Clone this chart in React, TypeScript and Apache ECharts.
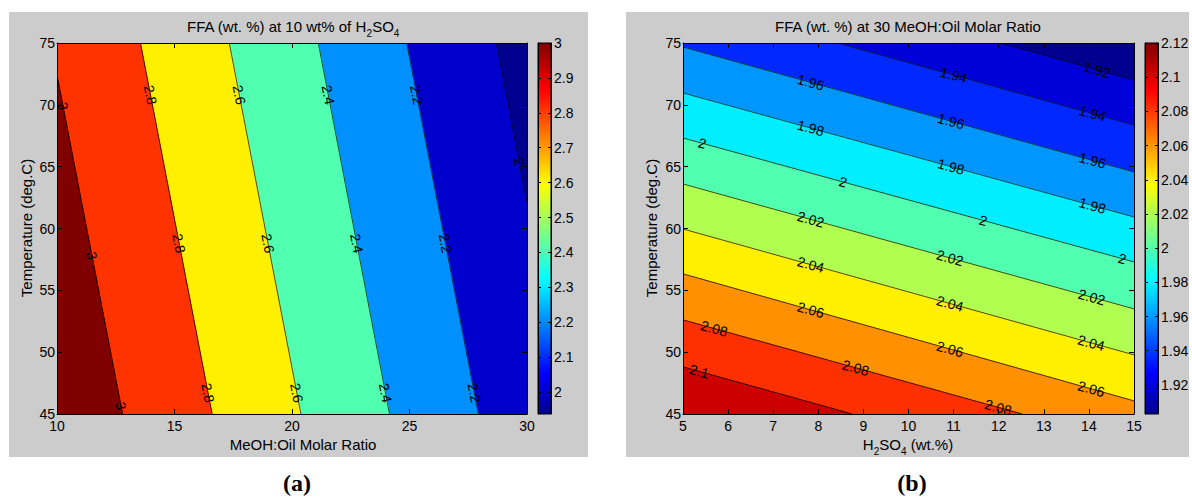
import React, { useEffect, useRef } from "react";
import * as echarts from "echarts";

const FONT = "'Liberation Sans', Arial, Helvetica, sans-serif";

// ---------- Panel (a): FFA vs MeOH:Oil molar ratio and temperature (10 wt% H2SO4)
const aXRange = [10, 30];
const aYRange = [45, 75];
const aLevels = [2.0, 2.2, 2.4, 2.6, 2.8, 3.0];
// contour line end points [x, y]
const aLineFrom = [[28.7, 75], [24.88, 75], [21.12, 75], [17.33, 75], [13.55, 75], [10, 72.4]];
const aLineTo = [[30, 62.1], [27.93, 45], [24.15, 45], [20.38, 45], [16.6, 45], [12.79, 45]];
const aBandColors = ["#00008F", "#0000CD", "#0090FF", "#50FFB0", "#FFF000", "#FF3300", "#800000"];
const aLabelLevel = [0, 1, 1, 1, 2, 2, 2, 3, 3, 3, 4, 4, 4, 5, 5, 5];
const aLabelY = [65.4, 70.8, 58.8, 46.7, 70.8, 58.8, 46.7, 70.8, 58.8, 46.7, 70.8, 58.8, 46.7, 69.9, 57.8, 45.65];
const aColorRange = [1.937, 3.0];
const aColorTicks = [2, 2.1, 2.2, 2.3, 2.4, 2.5, 2.6, 2.7, 2.8, 2.9, 3];

// ---------- Panel (b): FFA vs H2SO4 and temperature (30 MeOH:Oil)
const bXRange = [5, 15];
const bYRange = [45, 75];
const bLevels = [1.92, 1.94, 1.96, 1.98, 2.0, 2.02, 2.04, 2.06, 2.08, 2.1];
const bLineFrom = [[12.04, 75], [8.44, 75], [5, 74.68], [5, 70.96], [5, 67.32], [5, 63.6], [5, 59.96], [5, 56.33], [5, 52.61], [5, 48.81]];
const bLineTo = [[15, 72.0], [15, 68.37], [15, 64.57], [15, 60.93], [15, 57.3], [15, 53.5], [15, 49.78], [15, 46.06], [12.52, 45], [8.75, 45]];
const bBandColors = ["#00008F", "#0000D8", "#0028FF", "#0096FF", "#00EEFF", "#50FFB0", "#B0FF50", "#FFF000", "#FF9000", "#FF3000", "#CC0000"];
const bLabelLevel = [0, 1, 1, 2, 2, 2, 3, 3, 3, 4, 4, 4, 4, 5, 5, 5, 6, 6, 6, 7, 7, 7, 8, 8, 8, 9];
const bLabelX = [14.18, 11.0, 14.08, 7.83, 10.94, 14.08, 7.83, 10.94, 14.08, 5.43, 8.55, 11.66, 14.74, 7.83, 10.92, 14.06, 7.83, 10.92, 14.05, 7.83, 10.92, 14.05, 5.69, 8.83, 11.99, 5.36];
const bColorRange = [1.903, 2.12];
const bColorTicks = [1.92, 1.94, 1.96, 1.98, 2.0, 2.02, 2.04, 2.06, 2.08, 2.1, 2.12];

// jet colormap key points
const JET = [
  { offset: 0, color: "#00008F" },
  { offset: 0.111, color: "#0000FF" },
  { offset: 0.365, color: "#00FFFF" },
  { offset: 0.619, color: "#FFFF00" },
  { offset: 0.873, color: "#FF0000" },
  { offset: 1, color: "#800000" },
];

type P = number[];
function side(a: P, b: P, p: P) {
  return (b[0] - a[0]) * (p[1] - a[1]) - (b[1] - a[1]) * (p[0] - a[0]);
}
function clip(poly: P[], a: P, b: P, sign: number): P[] {
  const out: P[] = [];
  for (let i = 0; i < poly.length; i++) {
    const S = poly[i];
    const E = poly[(i + 1) % poly.length];
    const fs = side(a, b, S) * sign;
    const fe = side(a, b, E) * sign;
    if (fs >= 0) out.push(S);
    if ((fs >= 0) !== (fe >= 0)) {
      const t = fs / (fs - fe);
      out.push([S[0] + t * (E[0] - S[0]), S[1] + t * (E[1] - S[1])]);
    }
  }
  return out;
}
function bands(from: P[], to: P[], xr: number[], yr: number[], high: P): P[][] {
  const rect: P[] = [[xr[0], yr[0]], [xr[1], yr[0]], [xr[1], yr[1]], [xr[0], yr[1]]];
  const hs = from.map((f, i) => Math.sign(side(f, to[i], high)));
  const res: P[][] = [];
  for (let k = 0; k <= from.length; k++) {
    let poly = rect;
    if (k > 0) poly = clip(poly, from[k - 1], to[k - 1], hs[k - 1]);
    if (k < from.length) poly = clip(poly, from[k], to[k], -hs[k]);
    res.push(poly);
  }
  return res;
}

const aBands = bands(aLineFrom, aLineTo, aXRange, aYRange, [aXRange[0], aYRange[0]]);
const bBands = bands(bLineFrom, bLineTo, bXRange, bYRange, [bXRange[0], bYRange[0]]);

function pointOnLineByY(from: P, to: P, y: number): P {
  const t = (y - from[1]) / (to[1] - from[1]);
  return [from[0] + t * (to[0] - from[0]), y];
}
function pointOnLineByX(from: P, to: P, x: number): P {
  const t = (x - from[0]) / (to[0] - from[0]);
  return [x, from[1] + t * (to[1] - from[1])];
}

const fmt = (v: number) => String(Math.round(v * 100) / 100);

function contourSeries(
  xi: number, yi: number, polys: P[][], colors: string[], levels: number[],
  from: P[], to: P[], labelPts: P[], labelLevel: number[]
) {
  return [
    {
      type: "custom", xAxisIndex: xi, yAxisIndex: yi, clip: true, z: 2,
      data: polys.map((_, i) => [from[0][0], from[0][1], i]),
      renderItem: (params: any, api: any) => {
        const i = api.value(2);
        const pts = polys[i].map((p) => api.coord(p));
        if (pts.length < 3) return null;
        return { type: "polygon", shape: { points: pts }, style: { fill: colors[i], stroke: colors[i], lineWidth: 1 } };
      },
    },
    {
      type: "custom", xAxisIndex: xi, yAxisIndex: yi, clip: true, z: 3,
      data: levels.map((_, i) => [from[i][0], from[i][1], i]),
      renderItem: (params: any, api: any) => {
        const i = api.value(2);
        const p1 = api.coord(from[i]);
        const p2 = api.coord(to[i]);
        return { type: "line", shape: { x1: p1[0], y1: p1[1], x2: p2[0], y2: p2[1] }, style: { stroke: "#000", lineWidth: 0.7 } };
      },
    },
    {
      type: "custom", xAxisIndex: xi, yAxisIndex: yi, clip: true, z: 4,
      data: labelPts.map((p, k) => [p[0], p[1], labelLevel[k]]),
      renderItem: (params: any, api: any) => {
        const i = api.value(2);
        const c = api.coord([api.value(0), api.value(1)]);
        const p1 = api.coord(from[i]);
        const p2 = api.coord(to[i]);
        const ang = Math.atan2(p2[1] - p1[1], p2[0] - p1[0]);
        return {
          type: "text", x: c[0], y: c[1], rotation: -ang,
          style: { text: fmt(levels[i]), fill: "#000", fontSize: 14, fontFamily: FONT, align: "center", verticalAlign: "middle" },
        };
      },
    },
  ];
}

function colorbarSeries(xi: number, yi: number, range: number[]) {
  return {
    type: "custom", xAxisIndex: xi, yAxisIndex: yi, z: 2,
    data: [[0, range[0], 1, range[1]]],
    renderItem: (params: any, api: any) => {
      const p0 = api.coord([api.value(0), api.value(1)]);
      const p1 = api.coord([api.value(2), api.value(3)]);
      return {
        type: "rect",
        shape: { x: p0[0], y: p1[1], width: p1[0] - p0[0], height: p0[1] - p1[1] },
        style: { fill: new echarts.graphic.LinearGradient(0, 1, 0, 0, JET), stroke: "#000", lineWidth: 1 },
      };
    },
  };
}

const axisBase = {
  type: "value" as const,
  z: 10,
  splitLine: { show: false },
  axisLine: { show: true, onZero: false, lineStyle: { color: "#000", width: 1 } },
  axisTick: { show: true, inside: true, length: 5, lineStyle: { color: "#000" } },
  axisLabel: { color: "#000", fontSize: 14, fontFamily: FONT },
};

function plotAxes(grid: number, xr: number[], yr: number[], xInt: number, yInt: number) {
  const x = [
    { ...axisBase, gridIndex: grid, position: "bottom", min: xr[0], max: xr[1], interval: xInt, axisLabel: { ...axisBase.axisLabel, margin: 5 } },
    { ...axisBase, gridIndex: grid, position: "top", min: xr[0], max: xr[1], interval: xInt, axisLabel: { show: false } },
  ];
  const y = [
    { ...axisBase, gridIndex: grid, position: "left", min: yr[0], max: yr[1], interval: yInt, axisLabel: { ...axisBase.axisLabel, margin: 2 } },
    { ...axisBase, gridIndex: grid, position: "right", min: yr[0], max: yr[1], interval: yInt, axisLabel: { show: false } },
  ];
  return { x, y };
}

function cbAxes(grid: number, range: number[], ticks: number[]) {
  const x = [{ type: "value", gridIndex: grid, min: 0, max: 1, show: false }];
  const y = [
    {
      ...axisBase, gridIndex: grid, position: "right", min: range[0], max: range[1],
      axisTick: { ...axisBase.axisTick, length: 3, customValues: ticks },
      axisLabel: { ...axisBase.axisLabel, margin: 3, customValues: ticks, formatter: (v: number) => fmt(v) },
    },
    {
      ...axisBase, gridIndex: grid, position: "left", min: range[0], max: range[1],
      axisTick: { ...axisBase.axisTick, length: 3, customValues: ticks },
      axisLabel: { show: false },
    },
  ];
  return { x, y };
}

const richSub = (size: number) => ({
  m: { fontSize: size, fontFamily: FONT, lineHeight: 24, fill: "#000", color: "#000" },
  s: { fontSize: 10, fontFamily: FONT, lineHeight: 10, verticalAlign: "bottom", fill: "#000", color: "#000" },
});

function txt(x: number, y: number, text: string, size: number, rot = 0, rich?: any) {
  return {
    type: "text", x, y, rotation: rot, z: 20,
    style: { text, fontSize: size, fontFamily: FONT, fill: "#000", align: "center", verticalAlign: "middle", rich },
  };
}

export default function App() {
  const ref = useRef<HTMLDivElement>(null);
  useEffect(() => {
    if (!ref.current) return;
    const chart = echarts.init(ref.current, null, { renderer: "svg" });

    const aLabelPts = aLabelY.map((y, k) => pointOnLineByY(aLineFrom[aLabelLevel[k]], aLineTo[aLabelLevel[k]], y));
    const bLabelPts = bLabelX.map((x, k) => pointOnLineByX(bLineFrom[bLabelLevel[k]], bLineTo[bLabelLevel[k]], x));

    const aAx = plotAxes(0, aXRange, aYRange, 5, 5);
    const aCb = cbAxes(1, aColorRange, aColorTicks);
    const bAx = plotAxes(2, bXRange, bYRange, 1, 5);
    const bCb = cbAxes(3, bColorRange, bColorTicks);

    const serif = "'Liberation Serif', 'Times New Roman', serif";
    const option: any = {
      animation: false,
      backgroundColor: "#FFFFFF",
      grid: [
        { left: 57, top: 43, width: 470, height: 371 },
        { left: 538, top: 43, width: 13, height: 371 },
        { left: 683, top: 43, width: 451, height: 371 },
        { left: 1145, top: 43, width: 13, height: 371 },
      ],
      xAxis: [...aAx.x, ...aCb.x, ...bAx.x, ...bCb.x],
      yAxis: [...aAx.y, ...aCb.y, ...bAx.y, ...bCb.y],
      series: [
        ...contourSeries(0, 0, aBands, aBandColors, aLevels, aLineFrom, aLineTo, aLabelPts, aLabelLevel),
        colorbarSeries(2, 2, aColorRange),
        ...contourSeries(3, 4, bBands, bBandColors, bLevels, bLineFrom, bLineTo, bLabelPts, bLabelLevel),
        colorbarSeries(5, 6, bColorRange),
      ],
      graphic: [
        { type: "rect", z: -10, shape: { x: 9, y: 12, width: 579, height: 445 }, style: { fill: "#CCCCCC" } },
        { type: "rect", z: -10, shape: { x: 626, y: 12, width: 563, height: 445 }, style: { fill: "#CCCCCC" } },
        txt(293, 26, "{m|FFA (wt. %) at 10 wt% of H}{s|2}{m|SO}{s|4}", 15, 0, richSub(15)),
        txt(908, 26, "FFA (wt. %) at 30 MeOH:Oil Molar Ratio", 15),
        txt(303, 444, "MeOH:Oil Molar Ratio", 15),
        txt(908, 444, "{m|H}{s|2}{m|SO}{s|4}{m| (wt.%)}", 15, 0, richSub(15)),
        txt(26, 228, "Temperature (deg.C)", 15, Math.PI / 2),
        txt(651, 228, "Temperature (deg.C)", 15, Math.PI / 2),
        {
          type: "text", x: 297, y: 483, z: 20,
          style: { text: "(a)", fontSize: 24, fontWeight: "bold", fontFamily: serif, fill: "#000", align: "center", verticalAlign: "middle" },
        },
        {
          type: "text", x: 912, y: 483, z: 20,
          style: { text: "(b)", fontSize: 24, fontWeight: "bold", fontFamily: serif, fill: "#000", align: "center", verticalAlign: "middle" },
        },
      ],
    };
    chart.setOption(option);
    return () => chart.dispose();
  }, []);
  return <div ref={ref} style={{ position: "fixed", left: 0, top: 0, width: 1192, height: 499 }} />;
}
